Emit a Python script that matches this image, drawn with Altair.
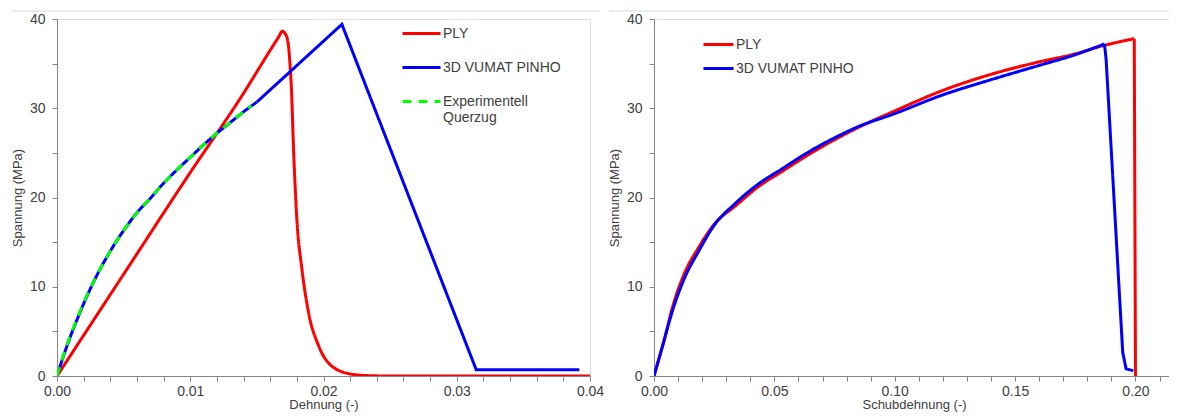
import altair as alt
import pandas as pd

FONT = "Liberation Sans"
TXT = "#404040"
AX = "#868686"

# ---------------- Left panel: Querzug ----------------
ply_l_x = [0, 0.005, 0.010, 0.01375, 0.0166, 0.01693, 0.0171, 0.01728, 0.0174, 0.01748,
           0.01758, 0.01776, 0.0180, 0.01838, 0.01888, 0.01963, 0.02063, 0.02213, 0.0236, 0.025, 0.04]
ply_l_y = [0, 11.4, 22.8, 31.1, 37.9, 38.65, 38.4, 37.8, 36.6, 35.0,
           32.6, 25.1, 17.6, 12.0, 7.1, 3.4, 1.1, 0.2, 0.03, 0, 0]

vum_l_x = [0, 0.0005, 0.001, 0.0015, 0.002, 0.003, 0.004, 0.005, 0.006, 0.007, 0.008,
           0.009, 0.010, 0.011, 0.012, 0.013, 0.014, 0.015, 0.02138, 0.03146, 0.0392]
vum_l_y = [0, 2.3, 4.4, 6.3, 8.1, 11.3, 14.0, 16.3, 18.3, 19.9, 21.6,
           23.1, 24.5, 25.9, 27.2, 28.4, 29.6, 30.7, 39.4, 0.7, 0.7]

exp_l_x = [0, 0.0005, 0.001, 0.0015, 0.002, 0.003, 0.004, 0.005, 0.006, 0.007, 0.008,
           0.009, 0.010, 0.011, 0.012, 0.013, 0.014, 0.0146]
exp_l_y = [0, 2.4, 4.5, 6.4, 8.2, 11.3, 14.0, 16.3, 18.3, 19.9, 21.6,
           23.1, 24.5, 25.9, 27.2, 28.4, 29.6, 30.3]

# ---------------- Right panel: Schub ----------------
ply_r_x = [0, 0.004, 0.008, 0.0128, 0.0183, 0.0253, 0.0336, 0.0433, 0.0531, 0.0642, 0.0766,
           0.0845, 0.10, 0.12, 0.14, 0.16, 0.175, 0.185, 0.1995, 0.2]
ply_r_y = [0, 3.8, 8.0, 11.6, 14.3, 17.1, 19.0, 21.2, 22.9, 24.8, 26.7,
           27.8, 29.7, 32.0, 33.8, 35.2, 36.1, 36.9, 37.8, 0]

vum_r_x = [0, 0.00375, 0.0079, 0.0128, 0.0183, 0.0253, 0.0336, 0.0433, 0.0531, 0.0642, 0.0766,
           0.0845, 0.10, 0.12, 0.14, 0.16, 0.175, 0.1871, 0.1878, 0.1947, 0.1961, 0.1991]
vum_r_y = [0, 3.56, 7.5, 11.05, 13.86, 17.0, 19.3, 21.5, 23.2, 25.1, 26.9,
           27.9, 29.4, 31.5, 33.2, 34.8, 36.0, 37.2, 35.5, 2.65, 0.8, 0.6]

names_l = ["PLY", "3D VUMAT PINHO", "Experimentell Querzug"]
names_r = ["PLY", "3D VUMAT PINHO"]
colors = ["#FF0000", "#0000FF", "#00FF00"]

left_x_ticks = [0, 0.002, 0.004, 0.006, 0.008, 0.010, 0.012, 0.014, 0.016, 0.018, 0.020,
                0.022, 0.024, 0.026, 0.028, 0.030, 0.032, 0.034, 0.036, 0.038, 0.040]
right_x_ticks = [0, 0.01, 0.02, 0.03, 0.04, 0.05, 0.06, 0.07, 0.08, 0.09, 0.10,
                 0.11, 0.12, 0.13, 0.14, 0.15, 0.16, 0.17, 0.18, 0.19, 0.20, 0.21]
y_ticks = [0, 5, 10, 15, 20, 25, 30, 35, 40]


def frame(xs, ys, name):
    return pd.DataFrame({"x": xs, "y": ys, "series": name, "i": list(range(len(xs)))})


left_df = pd.concat([frame(ply_l_x, ply_l_y, names_l[0]),
                     frame(vum_l_x, vum_l_y, names_l[1]),
                     frame(exp_l_x, exp_l_y, names_l[2])], ignore_index=True)
right_df = pd.concat([frame(ply_r_x, ply_r_y, names_r[0]),
                      frame(vum_r_x, vum_r_y, names_r[1])], ignore_index=True)


def axis(title, values, label_expr, title_pad, label_pad):
    return alt.Axis(title=title, values=values, labelExpr=label_expr, grid=False,
                    domainColor=AX, tickColor=AX, tickSize=5, ticks=True, labelFlush=False,
                    labelFont=FONT, labelFontSize=14, labelColor=TXT, labelPadding=label_pad,
                    titleFont=FONT, titleFontSize=13, titleFontWeight="normal", titleColor=TXT,
                    titlePadding=title_pad, labelOverlap=False)


y_lab = "datum.value % 10 == 0 ? format(datum.value, 'd') : ''"


def panel(df, names, xdom, xticks, xlab_expr, xtitle, w, legend_x, legend_y, sym_len, row_pad, segs):
    leg = alt.Legend(title=None, orient="none", legendX=legend_x, legendY=legend_y,
                     symbolType="stroke", symbolSize=sym_len * sym_len, symbolStrokeWidth=3,
                     labelFont=FONT, labelFontSize=14, labelColor=TXT, labelOffset=1,
                     rowPadding=row_pad, labelLimit=300,
                     labelExpr="datum.label == 'Experimentell Querzug' ? ['Experimentell', 'Querzug'] : datum.label")
    base = alt.Chart(df).encode(
        x=alt.X("x:Q", scale=alt.Scale(domain=xdom, nice=False, zero=False),
                axis=axis(xtitle, xticks, xlab_expr, 0, 3)),
        y=alt.Y("y:Q", scale=alt.Scale(domain=[0, 40], nice=False),
                axis=axis("Spannung (MPa)", y_ticks, y_lab, 5, 7)),
        color=alt.Color("series:N", scale=alt.Scale(domain=names, range=colors[:len(names)]), legend=leg),
        strokeDash=alt.StrokeDash("series:N",
                                  scale=alt.Scale(domain=names, range=[[1, 0], [1, 0], [9, 7]][:len(names)]),
                                  legend=leg),
        order="i:Q",
    )
    layers = []
    for name, lo, hi, interp in segs:
        flt = (alt.datum.series == name) & (alt.datum.x >= lo) & (alt.datum.x <= hi)
        layers.append(base.transform_filter(flt).mark_line(strokeWidth=3, clip=True, interpolate=interp))
    top = alt.Chart(pd.DataFrame({"k": [0]})).mark_rule(color="#d9d9d9", strokeWidth=1).encode(
        x=alt.value(-45), x2=alt.value(w + 10), y=alt.value(-8))
    return alt.layer(*layers, top).properties(width=w, height=357)


left = panel(left_df, names_l, [0, 0.04], left_x_ticks,
             "round(datum.value * 1000) % 10 == 0 ? format(datum.value, '.2f') : ''",
             "Dehnung (-)", 533, 344, -6, 38, 6,
             [("PLY", 0, 1, "monotone"),
              ("3D VUMAT PINHO", 0, 0.015, "monotone"),
              ("3D VUMAT PINHO", 0.015, 1, "linear"),
              ("Experimentell Querzug", 0, 1, "monotone")])
right = panel(right_df, names_r, [0, 0.216], right_x_ticks,
              "round(datum.value * 100) % 5 == 0 ? format(datum.value, '.2f') : ''",
              "Schubdehnung (-)", 520, 48, 9, 30, -1,
              [("PLY", 0, 0.1995, "monotone"),
               ("PLY", 0.1995, 1, "linear"),
               ("3D VUMAT PINHO", 0, 0.1871, "monotone"),
               ("3D VUMAT PINHO", 0.1871, 1, "linear")])

chart = alt.HConcatChart(hconcat=[left, right], spacing=64, bounds="flush").resolve_scale(
    color="independent", strokeDash="independent", x="independent", y="independent"
).resolve_legend(color="independent", strokeDash="independent").properties(
    padding={"left": 2, "top": 2, "right": -16, "bottom": 0}
).configure_view(stroke="transparent").configure(background="white")

chart.save("out.html", embed_options={"renderer": "svg", "actions": False})
